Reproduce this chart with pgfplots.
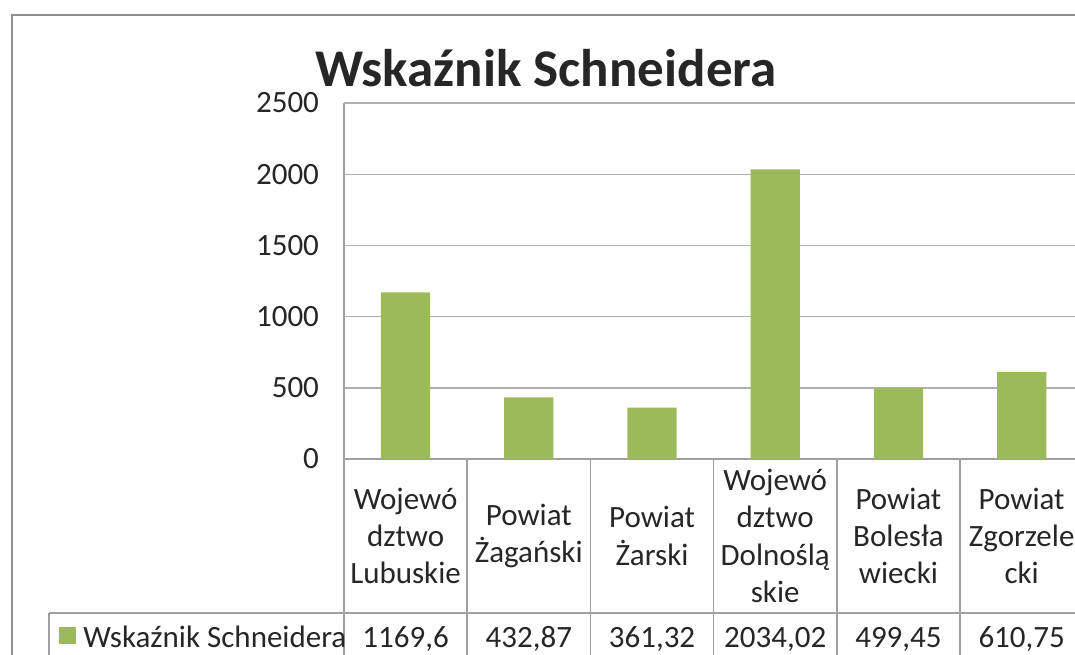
\documentclass[border=0pt]{standalone}
\usepackage{pgfplots}
\pgfplotsset{compat=1.18}
\usepackage{fontspec}
\setmainfont{Carlito}
\definecolor{bargreen}{HTML}{9BBB59}
\definecolor{gridgray}{HTML}{B0B0B0}
\definecolor{tablegray}{HTML}{A0A0A0}
\definecolor{framegray}{HTML}{909090}
\definecolor{textgray}{HTML}{262626}
\tikzset{
  catlabel/.style={align=center, inner sep=0, font=\fontsize{15.5}{18.6}\selectfont, text=textgray, yshift=-38.5pt},
  vallabel/.style={anchor=base, inner sep=0, font=\fontsize{15.5}{18.6}\selectfont, text=textgray, yshift=-94pt},
}
\begin{document}
\begin{tikzpicture}[x=0.5pt,y=0.5pt]
\path[use as bounding box] (0,0) rectangle (1075,654);
% outer chart frame (cropped on the right and bottom)
\draw[framegray, line width=1.2pt] (12,-100) -- (12,639) -- (1300,639);
% title
\node[anchor=base, inner sep=0, text=textgray, font=\bfseries\fontsize{26.5}{30}\selectfont] at (546,567) {Wskaźnik Schneidera};
\begin{axis}[
  at={(172pt,97.5pt)}, anchor=south west,
  scale only axis, width=365.5pt, height=178pt,
  xmin=-0.5, xmax=5.433, ymin=0, ymax=2500,
  ytick={0,500,...,2500},
  xtick=\empty,
  axis x line*=bottom, axis y line*=left,
  axis line style={-, tablegray, line width=0.8pt},
  ymajorgrids, grid style={gridgray, line width=0.7pt},
  ytick style={draw=none},
  tick label style={font=\fontsize{15.5}{18}\selectfont, text=textgray},
  yticklabel style={xshift=-9pt},
  /pgf/number format/assume math mode=true,
  /pgf/number format/1000 sep={},
  clip=false,
]
\addplot[ybar, bar width=0.4, fill=bargreen, draw=none] coordinates {
  (0,1169.6) (1,432.87) (2,361.32) (3,2034.02) (4,499.45) (5,610.75)};
% data table grid
\pgfplotsinvokeforeach{-0.5,0.5,1.5,2.5,3.5,4.5,5.5}{
  \draw[tablegray, line width=0.8pt] (axis cs:#1,0) -- (axis cs:#1,-1700);
}
\draw[tablegray, line width=0.8pt] (axis cs:-2.894,-1081) -- (axis cs:6,-1081);
\draw[tablegray, line width=0.8pt] (axis cs:-2.894,-1081) -- (axis cs:-2.894,-1700);
% category names
\node[catlabel] at (axis cs:0,0) {Wojewó\\dztwo\\Lubuskie};
\node[catlabel] at (axis cs:1,0) {Powiat\\Żagański};
\node[catlabel] at (axis cs:2,0) {Powiat\\Żarski};
\node[catlabel] at (axis cs:3,0) {Wojewó\\dztwo\\Dolnoślą\\skie};
\node[catlabel] at (axis cs:4,0) {Powiat\\Bolesła\\wiecki};
\node[catlabel] at (axis cs:5,0) {Powiat\\Zgorzele\\cki};
% values row
\node[vallabel] at (axis cs:0,0) {1169,6};
\node[vallabel] at (axis cs:1,0) {432,87};
\node[vallabel] at (axis cs:2,0) {361,32};
\node[vallabel] at (axis cs:3,0) {2034,02};
\node[vallabel] at (axis cs:4,0) {499,45};
\node[vallabel] at (axis cs:5,0) {610,75};
\end{axis}
% legend key in the data table
\fill[bargreen] (59,10) rectangle (76,27);
\node[anchor=base west, inner sep=0, text=textgray, font=\fontsize{15.5}{18.6}\selectfont] at (83,7) {Wskaźnik Schneidera};
\end{tikzpicture}
\end{document}
